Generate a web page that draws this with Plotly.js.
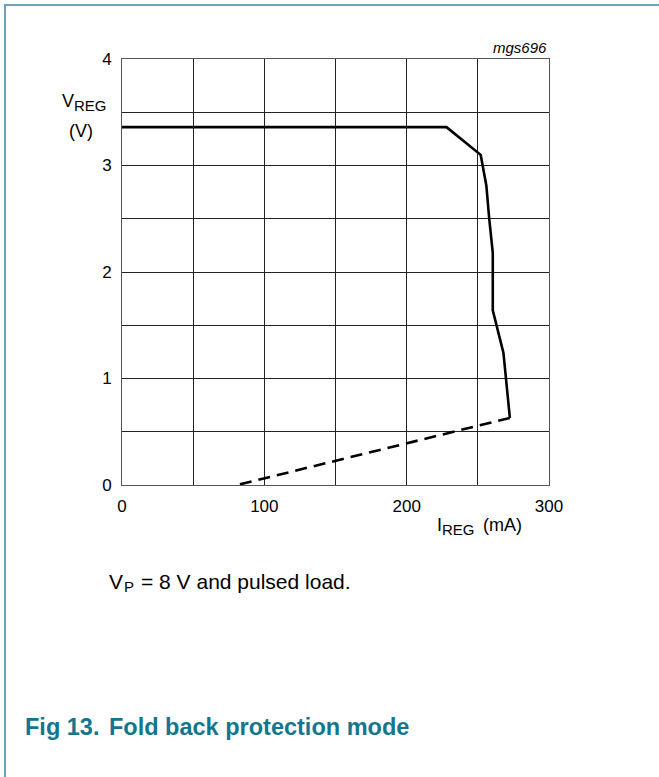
<!DOCTYPE html>
<html>
<head>
<meta charset="utf-8">
<script src="https://cdn.plot.ly/plotly-3.0.1.min.js"></script>
<style>
  html, body { margin: 0; padding: 0; background: #fff; }
  #wrap { position: relative; width: 659px; height: 777px; overflow: hidden; }
  #chart { width: 659px; height: 777px; }
  #frame { position: absolute; left: 4px; top: 4px; width: 700px; height: 800px;
           border-top: 2px solid #68a7b3; border-left: 2px solid #68a7b3; pointer-events: none; }
</style>
</head>
<body>
<div id="wrap">
  <div id="chart"></div>
  <div id="frame"></div>
</div>
<script>
// Data
const solidCurrent = [0, 228, 252, 256, 258, 260.5, 260.5, 268, 272.5];   // I_REG (mA)
const solidVoltage = [3.36, 3.36, 3.10, 2.81, 2.50, 2.18, 1.64, 1.24, 0.63]; // V_REG (V)
const dashCurrent = [272.5, 81];
const dashVoltage = [0.63, 0];

const xTickVals = [0, 50, 100, 150, 200, 250, 300];
const xTickText = ['0', '', '100', '', '200', '', '300'];
const yTickVals = [0, 0.5, 1, 1.5, 2, 2.5, 3, 3.5, 4];
const yTickText = ['0', '', '1', '', '2', '', '3', '', '4'];

const W = 659, H = 777;
const L = 122, R = 110, T = 59, B = 292;
const pw = W - L - R, ph = H - T - B;
const px = x => (x - L) / pw;
const py = y => (H - B - y) / ph;

const FONT = 'Liberation Sans, Arial, Helvetica, sans-serif';

function lab(text, x, y, size, opts) {
  opts = opts || {};
  return {
    text: text, xref: 'paper', yref: 'paper', x: px(x), y: py(y),
    xanchor: opts.xanchor || 'left', yanchor: 'middle', showarrow: false,
    font: { family: FONT, size: size, color: opts.color || '#000' }
  };
}

const traces = [
  { x: solidCurrent, y: solidVoltage, mode: 'lines', type: 'scatter',
    line: { color: '#000', width: 2.6 }, hoverinfo: 'skip', showlegend: false },
  { x: dashCurrent, y: dashVoltage, mode: 'lines', type: 'scatter',
    line: { color: '#000', width: 2.6, dash: '12px,7px' }, hoverinfo: 'skip', showlegend: false }
];

const TEAL = '#13768e';

const layout = {
  width: W, height: H,
  margin: { l: L, r: R, t: T, b: B, pad: 0 },
  paper_bgcolor: '#fff', plot_bgcolor: '#fff',
  font: { family: FONT, size: 17, color: '#000' },
  showlegend: false,
  xaxis: {
    range: [0, 300], tickvals: xTickVals, ticktext: xTickText,
    showgrid: true, gridcolor: '#222', gridwidth: 1,
    showline: true, linecolor: '#555', linewidth: 1, mirror: true,
    zeroline: false, ticks: '', ticklabelstandoff: 6,
    tickfont: { family: FONT, size: 17, color: '#000' }, fixedrange: true
  },
  yaxis: {
    range: [0, 4], tickvals: yTickVals, ticktext: yTickText,
    showgrid: true, gridcolor: '#222', gridwidth: 1,
    showline: true, linecolor: '#555', linewidth: 1, mirror: true,
    zeroline: false, ticks: '', ticklabelstandoff: 6,
    tickfont: { family: FONT, size: 17, color: '#000' }, fixedrange: true
  },
  annotations: [
    lab('V', 60, 101, 18),
    lab('REG', 72, 105, 15),
    lab('(V)', 81, 131, 18, { xanchor: 'center' }),
    lab('<i>mgs696</i>', 549, 48, 15, { xanchor: 'right' }),
    lab('I', 435, 525, 18),
    lab('REG', 440, 529, 15),
    lab('(mA)', 481, 525, 18),
    lab('V', 107, 581.5, 21),
    lab('P', 121.5, 586, 15),
    lab('= 8 V and pulsed load.', 139, 581.5, 21),
    lab('<b>Fig 13.</b>', 22.5, 727, 23.5, { color: TEAL }),
    lab('<b>Fold back protection mode</b>', 107, 727, 23.5, { color: TEAL })
  ]
};

Plotly.newPlot('chart', traces, layout, { staticPlot: true, displayModeBar: false });
</script>
</body>
</html>
